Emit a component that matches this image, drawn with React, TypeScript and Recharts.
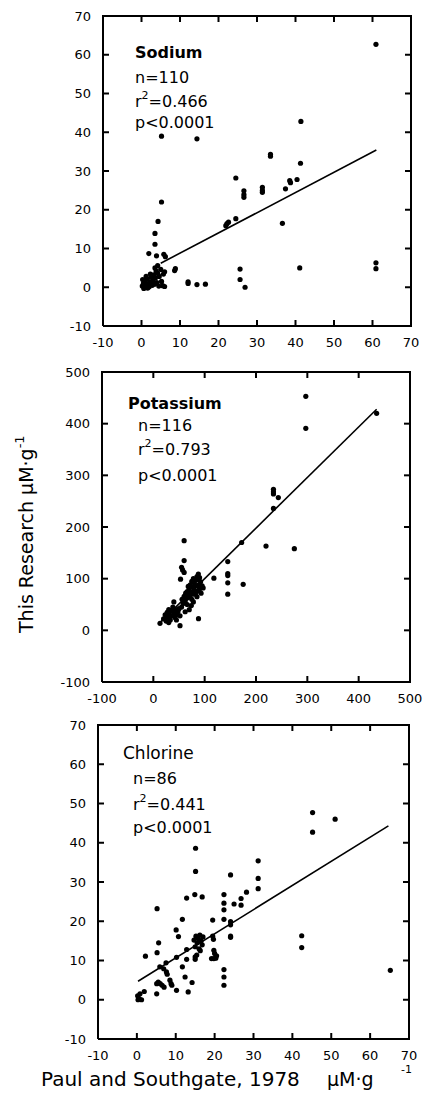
import React from "react";
import { ScatterChart, Scatter, XAxis, YAxis } from "recharts";

// values (x = Paul & Southgate, y = this research)
const sodiumPoints: [number, number][] = [
  [60.9, 62.7], [5.2, 39], [14.4, 38.3], [41.4, 42.8], [33.5, 34.3], [33.5, 33.8],
  [41.3, 32], [24.5, 28.2], [26.6, 24.9], [26.6, 23.9], [26.6, 23.2], [31.4, 25.8],
  [31.4, 25], [31.4, 24.5], [38.5, 27.5], [38.7, 27], [40.4, 27.8], [37.4, 25.4],
  [21.9, 15.9], [22.2, 16.4], [22.6, 16.8], [24.5, 17.7], [36.6, 16.5], [5.2, 22],
  [4.3, 17], [3.5, 13.9], [3.5, 11.1], [3.9, 8.1], [1.9, 8.7], [5.8, 8.5], [6.2, 7.9],
  [6, 4], [8.8, 4.8], [12.1, 1.4], [12.1, 1], [14.4, 0.7], [16.6, 0.8], [25.6, 4.7],
  [25.6, 2], [26.9, 0], [41.1, 5], [60.9, 6.3], [60.9, 4.8],
  [0.2, 0.3], [0.5, 1.0], [0.8, 0.2], [1, 1.6], [1.2, 0.6], [1.5, 2.2], [1.8, 0.9],
  [2, 0.1], [2.2, 1.4], [2.5, 2.6], [2.8, 0.5], [3, 1.8], [3.2, 3.2], [3.4, 0.8],
  [3.6, 2.4], [3.8, 4.2], [4, 1.2], [4.2, 3.6], [4.5, 0.3], [4.6, 2.8], [5, 4.6],
  [5.2, 1.5], [5.5, 0.4], [6, 0.2], [0.3, 2], [1.2, 2.8], [2.6, 1.2], [3.5, 5],
  [4.2, 5.6], [1.6, -0.2], [0.6, -0.3], [2.3, 3.4], [5.7, 3.4], [8.6, 4.3],
];
const sodiumFit: [number, number][] = [[5, 6.2], [61, 35.4]];

const potassiumPoints: [number, number][] = [
  [297, 453], [297, 391], [435, 420], [234, 273], [234, 268], [234, 264], [243.5, 257],
  [234, 236], [172, 170], [219.5, 163], [274.7, 158], [60, 173.5], [60, 135], [118, 101],
  [145, 133], [145, 110], [145, 106], [145, 92], [145, 70], [175, 89], [88, 22.6],
  [52, 9], [13, 13.5], [55, 122], [57, 117], [60, 112], [53, 99], [87.7, 109],
  [20, 22], [23, 30], [25, 18], [27, 35], [28, 26], [30, 40], [31, 30], [33, 20],
  [35, 28], [36, 38], [38, 45], [40, 33], [42, 25], [44, 40], [46, 30], [48, 36],
  [50, 42], [52, 28], [55, 45], [56, 60], [58, 52], [60, 66], [62, 56], [63, 72],
  [65, 62], [66, 75], [68, 68], [70, 80], [71, 64], [72, 88], [73, 74], [75, 95],
  [76, 70], [77, 84], [78, 100], [80, 78], [80, 92], [82, 70], [83, 86], [85, 98],
  [85, 104], [87, 76], [88, 88], [90, 80], [90, 102], [92, 94], [93, 72], [95, 86],
  [97, 82], [62, 36], [70, 40], [74, 48], [78, 55], [66, 50], [40, 55], [45, 20],
  [30, 15], [75, 60], [85, 65], [68, 85],
];
const potassiumFit: [number, number][] = [[10, 12], [435, 428]];

const chlorinePoints: [number, number][] = [
  [45.2, 47.7], [45.2, 42.7], [51, 46], [42.4, 16.3], [42.4, 13.3], [65.2, 7.5],
  [15.1, 38.6], [15.1, 32.7], [14.9, 26.8], [16.8, 26.2], [12.8, 25.9], [31.2, 35.4],
  [31.2, 30.9], [31.2, 28.3], [24.1, 31.8], [28.2, 27.4], [26.8, 25.8], [26.8, 24.1],
  [25, 24.4], [22.4, 26.8], [22.4, 24.6], [22.4, 22.9], [22.4, 20.5], [24.1, 19.9],
  [24.1, 19.1], [24.1, 16.2], [24.1, 15.9], [19.5, 20.3], [19.5, 16.2], [19.7, 15.4],
  [19.8, 12.6], [20, 11.8], [19.2, 10.5], [19.8, 10.5], [20.3, 10.6], [20.5, 11.2],
  [22.4, 7.7], [22.4, 5.8], [22.4, 3.7], [5.2, 23.2], [5.6, 14.5], [5.2, 12],
  [2.2, 11.1], [11.7, 20.5], [10.1, 17.8], [10.7, 16.1], [12.8, 12.8], [12.8, 10.3],
  [10.2, 10.8], [11.7, 8.4], [12.4, 5.8], [14.2, 4.4], [13.2, 2], [10.2, 2.4],
  [15, 10.3], [15, 10.9], [15.4, 11.4], [7.5, 9.4], [6.9, 7.9], [7.6, 7.1], [7.8, 6.5],
  [5.9, 8.4], [5.5, 4.5], [6, 4.1], [5.1, 4.1], [6.5, 3.7], [7, 3.2], [8.5, 5],
  [8.8, 4.1], [9, 3.7], [5.1, 1.5], [1.9, 2.1], [0.2, 1], [0.6, 0.3], [1.2, 0],
  [0.3, 0], [0.8, 1.5], [15.2, 16.2], [15.8, 15.6], [16.2, 16.5], [16.5, 15],
  [15.5, 14.5], [16.8, 14], [15, 13.5], [16, 13], [17, 16], [16.3, 12.5], [14.7, 15.2],
];
const chlorineFit: [number, number][] = [[0.3, 4.7], [64.7, 44.3]];

const smallTicks = [-10, 0, 10, 20, 30, 40, 50, 60, 70];
const largeTicks = [-100, 0, 100, 200, 300, 400, 500];

const sodiumStats = ["Sodium", "n=110", "0.466", "p<0.0001"];
const potassiumStats = ["Potassium", "n=116", "0.793", "p<0.0001"];
const chlorineStats = ["Chlorine", "n=86", "0.441", "p<0.0001"];

const FONT = "'DejaVu Sans', 'Liberation Sans', sans-serif";
const INK = "#000";

const blank = () => <g />;
const dot = (p: any) => <circle cx={p.cx} cy={p.cy} r={2.6} fill={INK} />;

// inward tick marks, drawn as scatter shapes sitting on the frame
const tickMark = (dx: number, dy: number) => (p: any) => (
  <path d={`M${p.cx},${p.cy}l${dx},${dy}`} stroke={INK} strokeWidth={2} fill="none" />
);

interface PanelProps {
  top: number;
  height: number;
  plotH: number;
  margin: { top: number; right: number; bottom: number; left: number };
  yWidth: number;
  points: [number, number][];
  fit: [number, number][];
  ticks: number[];
}

function Panel({ top, height, plotH, margin, yWidth, points, fit, ticks }: PanelProps) {
  const lo = ticks[0];
  const hi = ticks[ticks.length - 1];
  const pts = points.map(([x, y]) => ({ x, y }));
  const line = fit.map(([x, y]) => ({ x, y }));
  const frame = [
    { x: lo, y: lo },
    { x: hi, y: lo },
    { x: hi, y: hi },
    { x: lo, y: hi },
    { x: lo, y: lo },
  ];
  const inner = ticks.slice(1, -1);
  const axisProps = {
    type: "number" as const,
    domain: [lo, hi],
    ticks,
    interval: 0 as const,
    tickMargin: 6,
  };
  return (
    <div style={{ position: "absolute", left: 0, top }}>
      <ScatterChart width={425} height={height} margin={margin}>
        <XAxis
          dataKey="x"
          height={height - margin.top - plotH - margin.bottom}
          {...axisProps}
          stroke="#000"
          axisLine={{ stroke: "#000", strokeWidth: 2 }}
          tickLine={false}
        />
        <YAxis
          dataKey="y"
          width={yWidth}
          {...axisProps}
          stroke="#000"
          axisLine={{ stroke: "#000", strokeWidth: 2 }}
          tickLine={false}
        />
        <Scatter data={frame} line={{ stroke: INK, strokeWidth: 2 }} shape={blank} isAnimationActive={false} />
        <Scatter data={inner.map((t) => ({ x: t, y: lo }))} shape={tickMark(0, -6)} isAnimationActive={false} />
        <Scatter data={inner.map((t) => ({ x: t, y: hi }))} shape={tickMark(0, 6)} isAnimationActive={false} />
        <Scatter data={inner.map((t) => ({ x: lo, y: t }))} shape={tickMark(6, 0)} isAnimationActive={false} />
        <Scatter data={inner.map((t) => ({ x: hi, y: t }))} shape={tickMark(-6, 0)} isAnimationActive={false} />
        <Scatter data={pts} shape={dot} isAnimationActive={false} />
        <Scatter data={line} line={{ stroke: INK, strokeWidth: 1.6 }} shape={blank} isAnimationActive={false} />
      </ScatterChart>
    </div>
  );
}

// regression statistics block, as svg text (baselines given)
function Stats({ stats, x, xName, ys, bold }: { stats: string[]; x: number; xName: number; ys: number[]; bold: boolean }) {
  return (
    <g fontFamily={FONT} fill={INK}>
      <text x={xName} y={ys[0]} fontSize={bold ? 16 : 17} fontWeight={bold ? 700 : 400}>
        {stats[0]}
      </text>
      <text x={x} y={ys[1]} fontSize={16}>
        {stats[1]}
      </text>
      <text x={x} y={ys[2]} fontSize={16}>
        r<tspan dy={-8} fontSize={11}>2</tspan>
        <tspan dy={8}>={stats[2]}</tspan>
      </text>
      <text x={x} y={ys[3]} fontSize={16}>
        {stats[3]}
      </text>
    </g>
  );
}

export default function App() {
  return (
    <div
      style={{
        position: "absolute",
        left: 0,
        top: 0,
        width: 425,
        height: 1097,
        background: "#fff",
        fontFamily: FONT,
        fontSize: 13,
      }}
    >
      <Panel
        top={0}
        height={358}
        plotH={310}
        margin={{ top: 16, right: 14, bottom: 0, left: 0 }}
        yWidth={103}
        points={sodiumPoints}
        fit={sodiumFit}
        ticks={smallTicks}
      />
      <Panel
        top={356}
        height={358}
        plotH={310}
        margin={{ top: 16, right: 15, bottom: 0, left: 0 }}
        yWidth={102}
        points={potassiumPoints}
        fit={potassiumFit}
        ticks={largeTicks}
      />
      <Panel
        top={712}
        height={360}
        plotH={314}
        margin={{ top: 13, right: 16, bottom: 0, left: 0 }}
        yWidth={98}
        points={chlorinePoints}
        fit={chlorineFit}
        ticks={smallTicks}
      />
      <svg
        width={425}
        height={1097}
        style={{ position: "absolute", left: 0, top: 0, pointerEvents: "none" }}
      >
        <Stats stats={sodiumStats} x={135} xName={135} ys={[58, 83, 107, 128]} bold />
        <Stats stats={potassiumStats} x={138} xName={128} ys={[409, 431, 455, 481]} bold />
        <Stats stats={chlorineStats} x={133} xName={123} ys={[759, 784, 810, 833]} bold={false} />
        <text x={33} y={633} transform="rotate(-90 33 633)" fontFamily={FONT} fontSize={19} fill={INK}>
          {"This Research  μM·g"}
          <tspan dy={-9} fontSize={13}>-1</tspan>
        </text>
        <g fontFamily={FONT} fill={INK}>
          <text x={41} y={1086} fontSize={20}>
            Paul and Southgate, 1978
          </text>
          <text x={327} y={1086} fontSize={19}>
            μM·g
          </text>
          <text x={401} y={1073} fontSize={11}>
            -1
          </text>
        </g>
      </svg>
    </div>
  );
}
